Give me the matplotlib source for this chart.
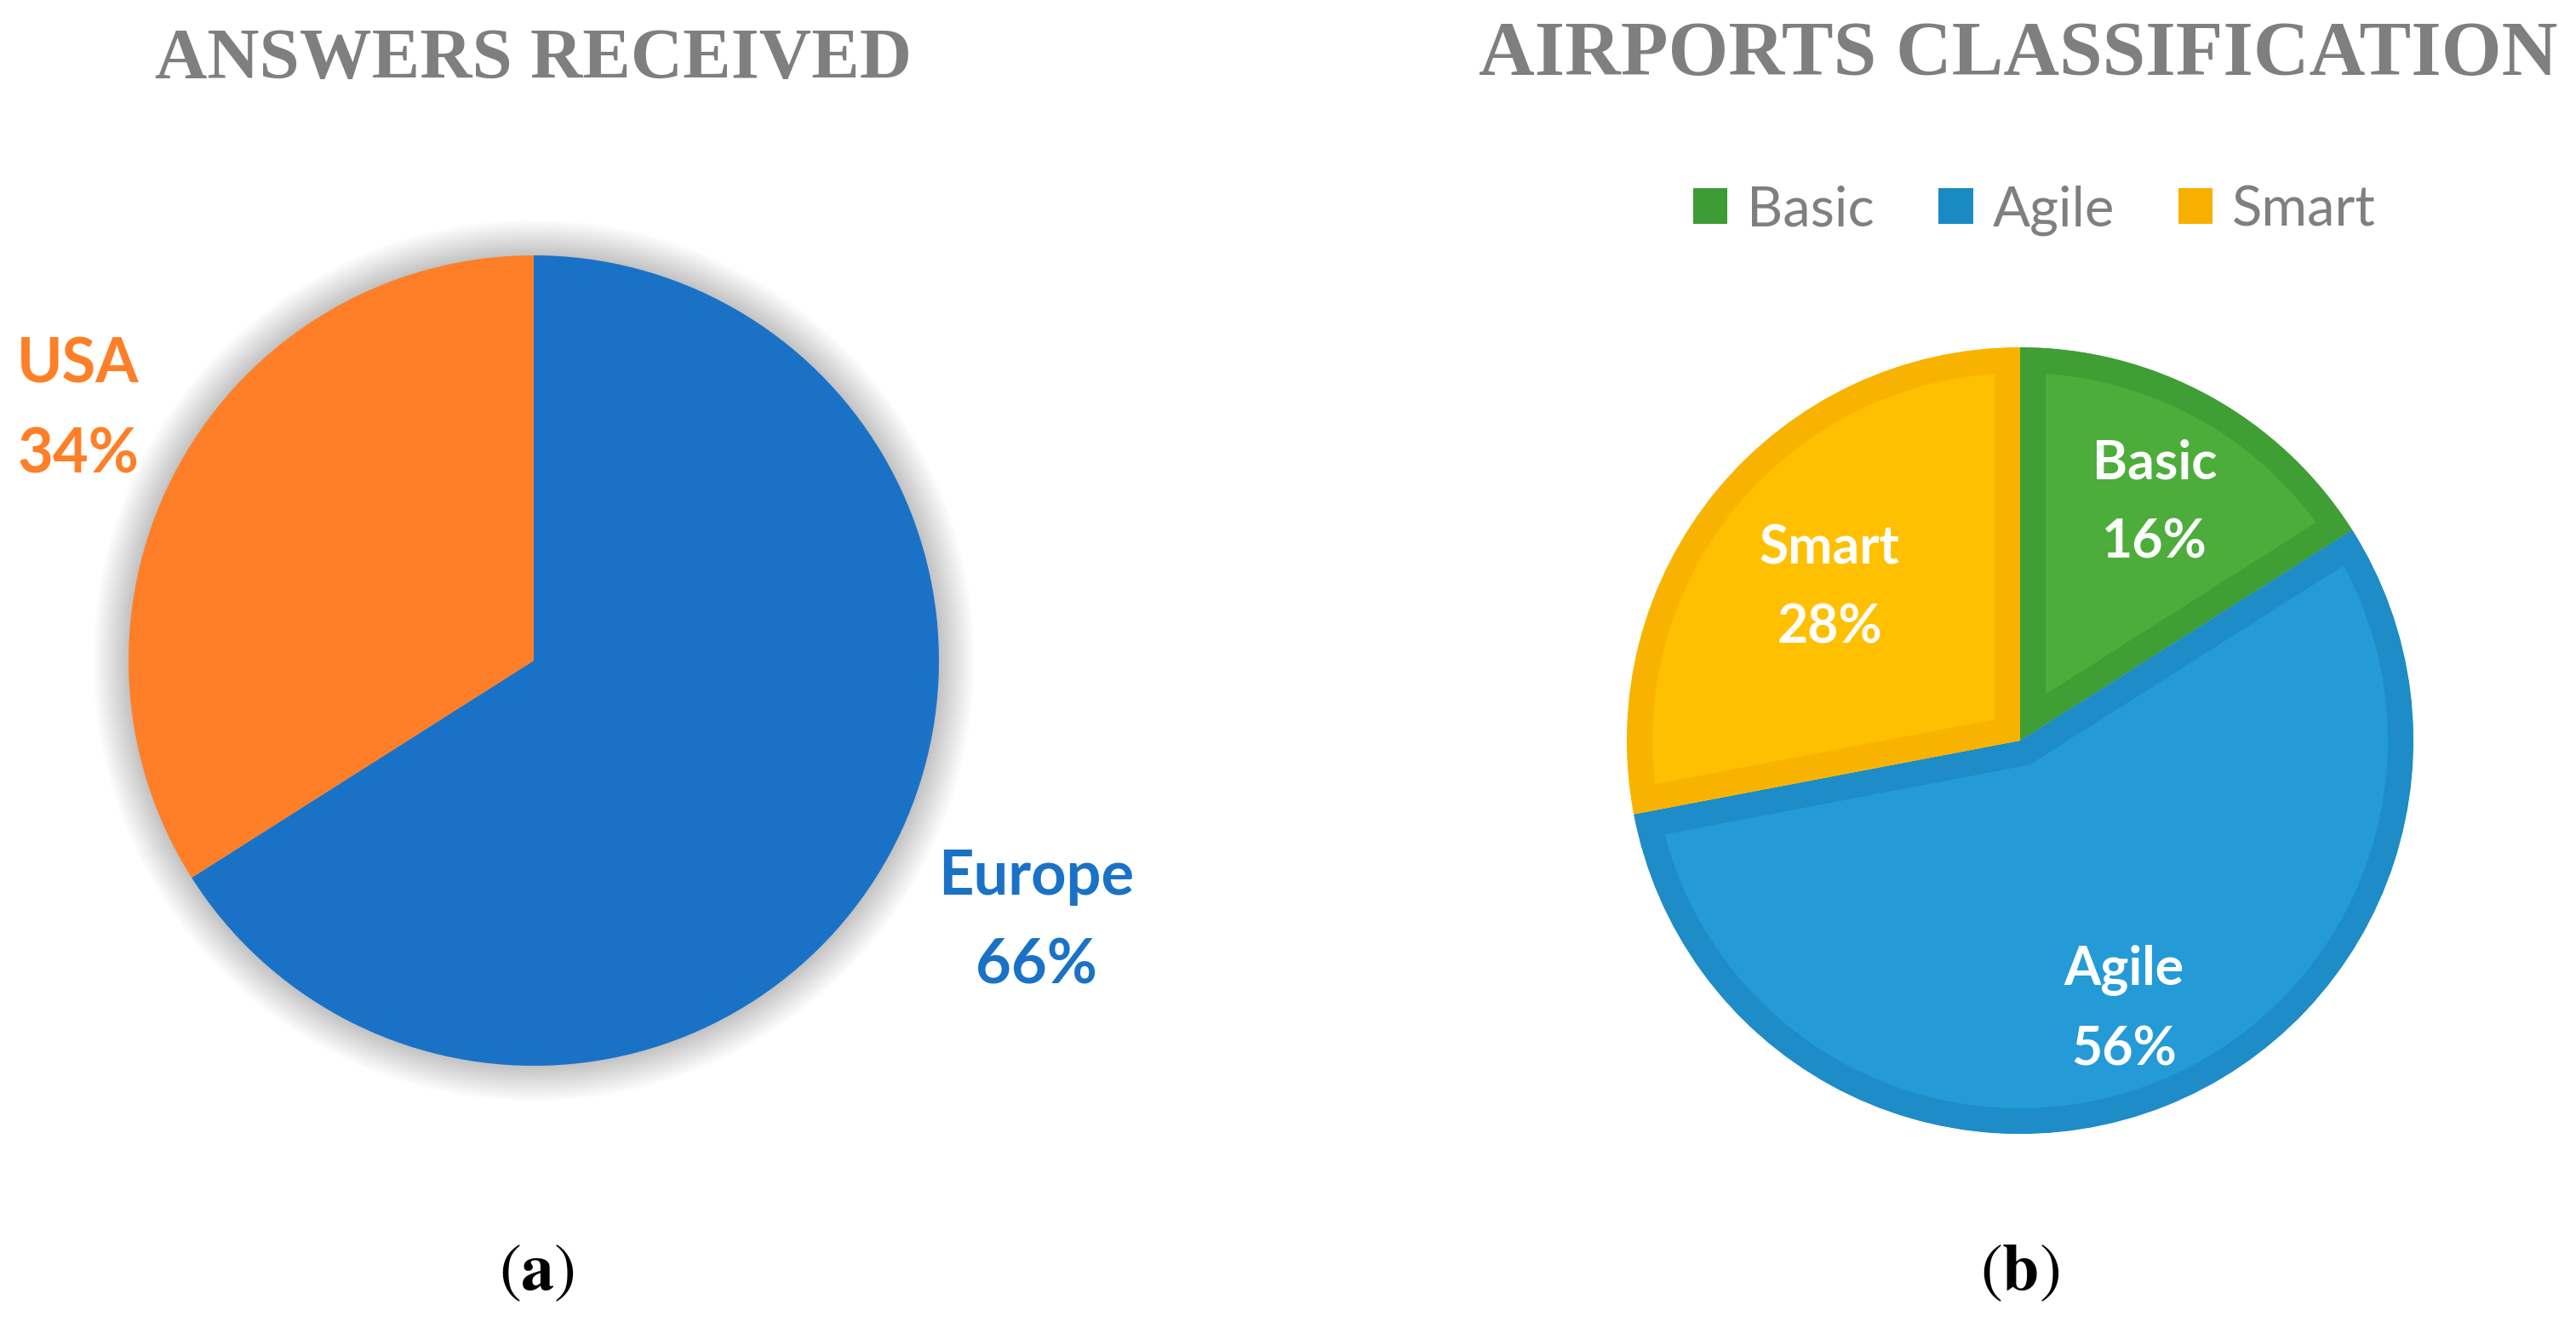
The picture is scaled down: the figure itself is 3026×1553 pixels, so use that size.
import matplotlib
matplotlib.use("Agg")
import matplotlib.pyplot as plt
from matplotlib.patches import Circle, Patch

# ---------------- data ----------------
regions = ["Europe", "USA"]
region_share = [66, 34]
classes = ["Basic", "Agile", "Smart"]
class_share = [16, 56, 28]
title_a = "ANSWERS RECEIVED"
title_b = "AIRPORTS CLASSIFICATION"
panel_tags = ["a", "b"]

# ---------------- style ----------------
region_colors = ["#1A72C7", "#FE7F27"]
class_fill = ["#4DAD3A", "#249BD7", "#FFC001"]
class_edge = ["#3F9E34", "#1E8CC6", "#F8B300"]
legend_colors = ["#3D9C35", "#1A8AC2", "#F8B000"]
GREY = "#7F7F7F"

plt.rcParams["mathtext.fontset"] = "stix"

W, H = 3026, 1553
fig = plt.figure(figsize=(W / 100, H / 100), dpi=100)
ax = fig.add_axes([0, 0, 1, 1])


def Y(y):
    return H - y


ca, ra = (627, Y(776)), 476
cb, rb = (2373, Y(870)), 462

# soft glow shadow around pie (a)
n = 30
for i in range(n):
    ax.add_patch(Circle(ca, ra + 42 * (1 - i / n), facecolor="black",
                        alpha=0.0062, lw=0, zorder=0))

# pie (a)
wa, _ = ax.pie(region_share, colors=region_colors, startangle=90,
               counterclock=False, center=ca, radius=ra,
               wedgeprops=dict(linewidth=0, zorder=2))

# pie (b) with inner darker borders (stroke clipped to each wedge)
wb, _ = ax.pie(class_share, colors=class_fill, startangle=90,
               counterclock=False, center=cb, radius=rb,
               wedgeprops=dict(linewidth=0, zorder=2))
border_px = 30
for w, ec in zip(wb, class_edge):
    w.set_edgecolor(ec)
    w.set_linewidth(2 * border_px * 72 / 100)
    w.set_joinstyle("miter")
    w.set_clip_on(True)
    w.set_clip_path(w)

ax.set_xlim(0, W)
ax.set_ylim(0, H)
ax.set_aspect("equal")
ax.axis("off")

# labels pie (a): (x, last-line baseline) layout positions
a_label_pos = [(1217, 1156), (92, 555)]
for name, val, col, (x, y) in zip(regions, region_share, region_colors, a_label_pos):
    ax.text(x, Y(y), f"{name}\n{val}%", ha="center", va="baseline",
            multialignment="center", fontsize=52, fontfamily="Lato",
            fontweight="bold", color=col, linespacing=1.71, zorder=5)

# labels pie (b)
b_label_pos = [(2531, 655), (2495, 1251), (2149, 755)]
for name, val, (x, y) in zip(classes, class_share, b_label_pos):
    ax.text(x, Y(y), f"{name}\n{val}%", ha="center", va="baseline",
            multialignment="center", fontsize=45, fontfamily="Lato",
            fontweight="bold", color="white", linespacing=1.74, zorder=5)

# titles
ax.text(ca[0], Y(92), title_a, ha="center", va="baseline", fontsize=61,
        fontfamily="Liberation Serif", fontweight="bold", color=GREY)
ax.text(2371, Y(88), title_b, ha="center", va="baseline", fontsize=65.5,
        fontfamily="Liberation Serif", fontweight="bold", color=GREY)

# legend
handles = [Patch(facecolor=c, edgecolor="none") for c in legend_colors]
fig.legend(handles, classes, loc="center", bbox_to_anchor=(2390 / W, 1 - 247 / H),
           ncol=3, frameon=False, prop=dict(family="Lato", size=47),
           labelcolor=GREY, handlelength=0.62, handleheight=0.62,
           handletextpad=0.35, columnspacing=1.15)

# captions
for tag, x in zip(panel_tags, [630, 2373]):
    ax.text(x, Y(1515), r"$(\mathbf{" + tag + r"})$", ha="center", va="baseline",
            fontsize=56, color="black")

fig.savefig("out.png", dpi=100, facecolor="white")
